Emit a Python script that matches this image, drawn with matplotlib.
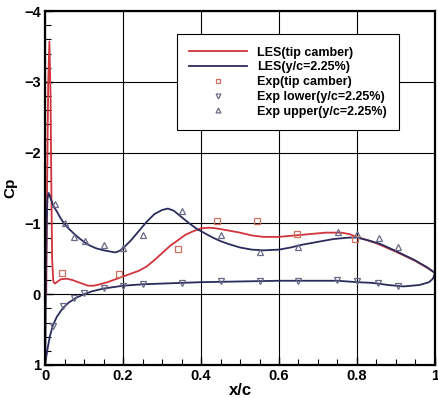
import numpy as np
import matplotlib.pyplot as plt

plt.rcParams['font.family'] = ['Liberation Sans', 'DejaVu Sans']
plt.rcParams['font.weight'] = 'bold'

# LES, y/c = 2.25% (lower surface TE -> LE, then upper surface LE -> TE)
les_y_x = [1.0, 0.995, 0.985, 0.96, 0.92, 0.88, 0.84, 0.80, 0.75, 0.70, 0.60, 0.50,
           0.40, 0.35, 0.30, 0.25, 0.20, 0.15, 0.12, 0.10, 0.08, 0.06, 0.045, 0.03,
           0.02, 0.012, 0.006, 0.002, 0.0,
           0.001, 0.002, 0.003, 0.004, 0.006, 0.009, 0.015, 0.022, 0.03, 0.04, 0.05,
           0.06, 0.075, 0.09, 0.11, 0.13, 0.15, 0.17, 0.18, 0.19, 0.20, 0.22, 0.24,
           0.26, 0.28, 0.30, 0.315, 0.33, 0.35, 0.37, 0.39, 0.41, 0.43, 0.45, 0.47,
           0.50, 0.53, 0.56, 0.60, 0.63, 0.66, 0.70, 0.74, 0.78, 0.80, 0.83, 0.86,
           0.90, 0.945, 0.98, 1.0]
les_y_cp = [-0.30, -0.22, -0.17, -0.13, -0.11, -0.13, -0.16, -0.17, -0.19, -0.19, -0.19, -0.18,
            -0.17, -0.16, -0.15, -0.14, -0.12, -0.08, -0.04, 0.0, 0.05, 0.12, 0.20, 0.32,
            0.44, 0.60, 0.78, 0.92, 1.0,
            0.6, 0.0, -0.6, -1.0, -1.35, -1.43, -1.34, -1.24, -1.17, -1.07, -0.99,
            -0.93, -0.85, -0.78, -0.70, -0.65, -0.62, -0.60, -0.59, -0.61, -0.65, -0.76, -0.89,
            -1.02, -1.13, -1.19, -1.21, -1.18, -1.09, -1.00, -0.92, -0.86, -0.80, -0.75, -0.71,
            -0.66, -0.63, -0.62, -0.63, -0.66, -0.70, -0.74, -0.78, -0.80, -0.80, -0.76, -0.71,
            -0.61, -0.49, -0.38, -0.30]

# LES, tip camber
les_tip_x = [0.003, 0.005, 0.008, 0.011, 0.014, 0.016, 0.018, 0.021, 0.025, 0.03, 0.04,
             0.055, 0.07, 0.09, 0.11, 0.125, 0.14, 0.16, 0.18, 0.20, 0.22, 0.24, 0.26,
             0.28, 0.30, 0.32, 0.34, 0.36, 0.38, 0.40, 0.42, 0.44, 0.46, 0.50, 0.53,
             0.56, 0.60, 0.64, 0.68, 0.72, 0.76, 0.78, 0.80, 0.85, 0.90, 0.95, 0.99, 1.0]
les_tip_cp = [0.0, -1.5, -3.0, -3.57, -2.8, -1.5, -0.5, -0.18, -0.15, -0.17, -0.21,
              -0.22, -0.20, -0.16, -0.12, -0.12, -0.14, -0.17, -0.21, -0.25, -0.29, -0.33, -0.39,
              -0.48, -0.58, -0.68, -0.76, -0.84, -0.89, -0.93, -0.94, -0.93, -0.91, -0.87, -0.83,
              -0.81, -0.81, -0.83, -0.85, -0.87, -0.87, -0.85, -0.81, -0.72, -0.60, -0.47, -0.34, -0.30]

# Experiments
exp_tip_x = [0.043, 0.19, 0.342, 0.442, 0.543, 0.645, 0.795]
exp_tip_cp = [-0.30, -0.28, -0.64, -1.03, -1.03, -0.85, -0.78]
exp_low_x = [0.021, 0.047, 0.073, 0.10, 0.15, 0.20, 0.25, 0.35, 0.45, 0.55, 0.65, 0.75, 0.80, 0.855, 0.906]
exp_low_cp = [0.45, 0.17, 0.05, -0.02, -0.09, -0.12, -0.15, -0.16, -0.18, -0.19, -0.19, -0.20, -0.18, -0.16, -0.11]
exp_up_x = [0.026, 0.051, 0.075, 0.103, 0.15, 0.20, 0.252, 0.35, 0.45, 0.55, 0.65, 0.752, 0.80, 0.857, 0.906]
exp_up_cp = [-1.28, -1.0, -0.81, -0.75, -0.70, -0.65, -0.83, -1.17, -0.83, -0.60, -0.67, -0.88, -0.85, -0.79, -0.67]

red = '#d0343c'
navy = '#2c2c5c'

fig = plt.figure(figsize=(4.38, 3.98), dpi=100)
ax = fig.add_axes([0.103, 0.083, 0.89, 0.889])

ax.plot(les_tip_x, les_tip_cp, color=red, lw=1.3, label='LES(tip camber)')
ax.plot(les_y_x, les_y_cp, color=navy, lw=1.3, label='LES(y/c=2.25%)')
ax.plot(exp_tip_x, exp_tip_cp, 's', ms=5, mfc='none', mec='#d07060', mew=0.9,
        label='Exp(tip camber)')
ax.plot(exp_low_x, exp_low_cp, 'v', ms=5, mfc='none', mec='#6a6a88', mew=0.9,
        label='Exp lower(y/c=2.25%)')
ax.plot(exp_up_x, exp_up_cp, '^', ms=5, mfc='none', mec='#6a6a88', mew=0.9,
        label='Exp upper(y/c=2.25%)')

ax.set_xlim(0, 1)
ax.set_ylim(1, -4)
ax.set_xticks([0, 0.2, 0.4, 0.6, 0.8, 1])
ax.set_xticklabels(['0', '0.2', '0.4', '0.6', '0.8', '1'])
ax.set_yticks([-4, -3, -2, -1, 0, 1])
ax.set_xticks(np.arange(0, 1.001, 0.05), minor=True)
ax.set_yticks(np.arange(-4, 1.001, 0.2), minor=True)
ax.tick_params(which='major', direction='in', length=6, width=1, labelsize=10.5, pad=3)
ax.tick_params(which='minor', direction='in', length=4, width=0.8)
ax.grid(True, which='major', color='black', lw=0.8)
for s in ax.spines.values():
    s.set_linewidth(1.6)

ax.set_xlabel('x/c', fontsize=12, fontweight='bold', labelpad=0)
ax.set_ylabel('Cp', fontsize=11, fontweight='bold', labelpad=5)

leg = ax.legend(loc='upper left', bbox_to_anchor=(0.338, 0.935), borderaxespad=0,
                handlelength=4.6, handletextpad=0.8, labelspacing=0.22,
                borderpad=1.0, markerscale=0.7, fancybox=False, framealpha=1,
                edgecolor='black', prop={'weight': 'bold', 'size': 9})
leg.get_frame().set_linewidth(0.8)

fig.savefig('out.png', dpi=100)
